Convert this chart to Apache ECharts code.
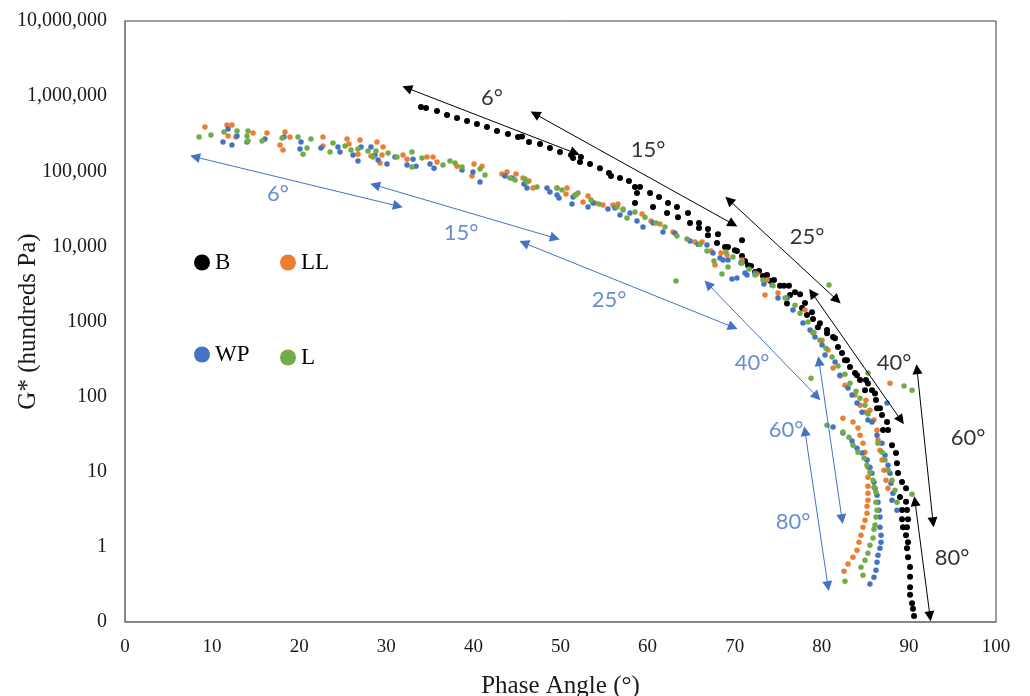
<!DOCTYPE html>
<html><head><meta charset="utf-8">
<script src="https://cdn.jsdelivr.net/npm/echarts@6/dist/echarts.min.js"></script>
<style>html,body{margin:0;padding:0;background:#fff}#c{width:1030px;height:696px}</style>
</head><body><div id="c"></div>
<script>
const seriesNames = ['B', 'LL', 'WP', 'L'];
const seriesColors = ['#000000', '#ED7D31', '#4472C4', '#70AD47'];
const yTickLabels = ['0', '1', '10', '100', '1000', '10,000', '100,000', '1,000,000', '10,000,000'];

const bData = [[33.98,716000],[34.56,694000],[35.82,633000],[36.97,560000],[38.12,511000],[39.27,466000],[40.41,425000],[41.56,388000],[42.71,343000],[43.97,313000],[45.12,285000],[45.58,290000],[46.38,245000],[47.65,230000],[48.79,204000],[49.94,180000],[51.21,164000],[51.44,150000],[52.35,155000],[52.24,133000],[53.39,125000],[54.53,110000],[55.57,94600],[55.80,86300],[56.83,81200],[57.86,74100],[58.55,61600],[59.13,61600],[58.78,51300],[60.28,51300],[61.31,45300],[62.34,37700],[63.37,33400],[64.64,27800],[65.90,20400],[66.93,17000],[68.08,14500],[68.89,9790],[70.03,8900],[70.84,7430],[71.53,5600],[72.33,4550],[73.25,4020],[74.05,3500],[75.66,3000],[76.92,2460],[77.50,2300],[78.07,1760],[78.88,1330],[79.79,950],[80.60,770],[81.29,620],[81.86,456],[82.32,380],[82.89,306],[83.81,206],[84.39,166],[85.07,166],[85.30,150],[85.76,122],[84.96,122],[86.11,110],[86.22,90],[86.68,70],[86.34,70],[86.91,57],[87.49,46],[87.60,36],[87.03,36],[88.06,22.6],[88.52,17.7],[88.63,13.0],[88.75,9.6],[89.21,7.3],[89.67,6.05],[88.98,4.6],[89.67,4.0],[89.21,3.1],[89.78,3.1],[89.21,2.34],[89.90,2.34],[89.32,1.83],[89.78,1.83],[89.67,1.43],[89.90,1.15],[89.78,0.96],[89.90,0.73],[90.13,0.54],[90.13,0.40],[90.13,0.29],[90.13,0.23],[90.36,0.178],[90.47,0.15],[90.59,0.12],[58.55,37700],[60.62,33400],[62.23,27800],[63.49,24500],[64.87,20400],[65.90,17500],[66.93,14100],[67.97,11100],[69.23,9800],[70.26,8700],[71.18,6370],[71.87,5500],[72.79,4700],[73.71,4150],[74.51,3560],[75.20,3000],[76.23,3000],[76.35,2250],[76.00,1730],[70.84,12100],[77.73,1510],[78.30,1220],[78.99,1080],[79.56,840],[80.60,700],[81.52,600],[82.66,306],[83.24,247],[84.04,193]];

const llData = [[9.18,388000],[11.71,412000],[12.28,412000],[11.83,294000],[12.74,285000],[14.70,323000],[16.30,323000],[17.80,223000],[18.14,192000],[18.37,333000],[18.94,285000],[22.73,285000],[22.73,217000],[25.49,268000],[25.72,230000],[26.98,260000],[26.75,169000],[28.93,245000],[29.62,210000],[28.24,159000],[29.51,164000],[29.28,129000],[31.92,164000],[32.38,145000],[34.67,155000],[35.36,155000],[35.82,133000],[38.12,117000],[39.84,86300],[40.07,125000],[40.99,117000],[43.28,91800],[43.86,97600],[44.89,91800],[45.69,81200],[46.38,74100],[46.84,59800],[49.60,59800],[50.75,59800],[50.63,49700],[51.78,48200],[52.58,38900],[53.16,46700],[53.96,37700],[54.88,35500],[56.03,35500],[56.60,36600],[57.18,31400],[59.36,26900],[60.39,21700],[61.42,19800],[62.92,15500],[65.44,11400],[66.25,11400],[67.28,8660],[67.74,5640],[68.43,8140],[69.12,7660],[70.84,6570],[72.56,4280],[73.48,2250],[73.71,3560],[74.97,2390],[76.00,2050],[78.07,1420],[78.99,701],[80.03,565],[80.71,416],[81.29,240],[82.09,188],[82.66,142],[83.81,105],[84.39,77],[85.07,62],[82.43,51.7],[83.58,45.8],[84.16,38.1],[84.39,30.7],[84.73,24.0],[84.96,18.2],[85.19,14.3],[85.30,11.5],[85.30,8.48],[85.30,6.43],[85.30,5.19],[85.30,4.19],[85.19,3.48],[85.19,2.81],[84.96,2.27],[84.73,1.83],[84.50,1.43],[84.27,1.15],[84.04,0.904],[83.58,0.73],[83.01,0.59],[82.55,0.475],[85.07,89.8],[85.53,66.1],[85.99,48.7],[86.34,35.8],[86.45,26.4],[86.68,19.4],[86.91,14.3],[87.14,10.5],[87.37,7.73],[87.60,6.05],[87.83,151]];

const wpData = [[11.25,245000],[12.28,223000],[11.83,365000],[12.86,294000],[14.01,245000],[16.07,268000],[18.25,285000],[20.21,245000],[20.09,198000],[22.50,204000],[24.45,210000],[24.68,180000],[26.18,164000],[26.75,137000],[27.10,210000],[28.24,210000],[28.70,164000],[29.05,141000],[30.08,125000],[31.00,155000],[32.38,121000],[33.07,145000],[33.41,117000],[35.02,125000],[35.48,110000],[38.69,104000],[39.95,97600],[40.76,71800],[43.63,86300],[44.43,81200],[45.81,67500],[46.15,59800],[48.45,59800],[48.79,52900],[49.60,48200],[49.83,44000],[51.32,36600],[51.44,45300],[53.16,33400],[53.73,37700],[55.45,31400],[56.26,32400],[56.83,26100],[57.98,27800],[58.78,21700],[59.47,18100],[60.62,20400],[61.77,15500],[63.15,15000],[64.87,11800],[65.79,10700],[66.82,10400],[67.51,8140],[68.31,6980],[68.66,6570],[69.23,6570],[69.69,3670],[70.26,3780],[70.72,5990],[71.18,4410],[71.41,4150],[72.33,4410],[73.36,3150],[74.28,3050],[74.97,2050],[76.00,2050],[76.69,1420],[77.84,952],[78.65,768],[79.22,620],[80.03,485],[80.37,357],[81.52,288],[82.09,193],[83.01,130],[83.47,105],[84.04,82],[84.62,62],[85.30,48.7],[81.29,39.3],[82.43,32.7],[83.47,25.6],[84.04,20.6],[84.62,17.7],[85.19,14.3],[85.53,11.5],[85.76,9.58],[85.99,7.27],[86.11,6.05],[86.34,4.88],[86.45,3.94],[86.57,3.08],[86.68,2.49],[86.68,1.83],[86.80,1.43],[86.80,1.15],[86.68,0.96],[86.45,0.775],[86.34,0.626],[86.22,0.49],[85.99,0.395],[85.53,0.32],[85.76,45.8],[86.34,30.7],[86.91,24.0],[87.26,16.6],[87.60,12.2],[87.83,9.58],[87.95,7.05],[88.17,5.19],[88.06,4.19],[88.63,3.08],[87.49,82]];

const lData = [[8.50,285000],[9.87,303000],[11.37,333000],[12.86,343000],[14.01,294000],[14.12,343000],[14.12,252000],[15.73,252000],[18.03,277000],[19.86,285000],[20.90,204000],[20.44,169000],[21.35,268000],[23.54,180000],[23.88,237000],[25.26,217000],[25.95,192000],[26.75,198000],[27.90,186000],[28.47,155000],[28.82,186000],[30.20,175000],[31.23,155000],[32.95,180000],[32.95,114000],[34.10,150000],[36.51,121000],[37.31,137000],[37.89,129000],[38.69,114000],[40.76,107000],[41.33,89000],[44.20,81200],[44.78,76400],[45.92,78700],[46.15,71800],[47.30,61600],[49.60,59800],[50.17,56200],[51.66,48200],[52.01,51300],[53.50,41300],[54.42,36600],[56.49,33400],[57.18,30400],[57.63,23800],[58.55,28600],[59.70,24500],[60.96,20400],[61.99,18100],[63.37,13700],[64.52,12500],[66.02,10700],[66.82,8660],[67.62,6370],[68.54,4280],[69.00,8400],[69.23,5300],[69.80,7200],[70.84,5990],[71.64,4980],[72.33,4150],[73.25,3560],[74.40,3000],[75.78,2050],[76.92,1650],[77.50,1290],[78.42,982],[79.10,722],[79.79,565],[80.48,442],[81.17,336],[81.86,255],[82.66,199],[83.24,151],[83.93,118],[84.39,95.5],[84.96,77],[85.30,58.5],[80.60,41.7],[82.43,33.7],[83.12,28.9],[83.58,22.6],[84.16,18.2],[84.85,15.2],[85.19,12.2],[85.53,9.88],[85.88,7.73],[85.99,6.24],[86.22,5.35],[86.22,3.94],[86.34,3.08],[86.22,2.49],[86.11,1.95],[85.99,1.72],[85.88,1.31],[85.53,1.05],[85.30,0.82],[84.96,0.665],[84.50,0.537],[84.73,0.42],[86.45,24.0],[86.91,18.2],[87.26,14.3],[87.60,10.5],[88.06,7.73],[88.40,5.69],[88.63,3.94],[63.26,3450],[80.83,3050],[78.76,176],[85.30,206],[89.44,138],[90.36,122],[90.36,5.03],[82.66,0.35]];

const blackArrows = [[[32.38,1282000],[51.66,174700]],[[47.08,578000],[69.80,19800]],[[69.35,41300],[81.75,1930]],[[78.88,2390],[89.09,48.7]],[[90.93,232],[92.77,2.13]],[[90.70,4.06],[92.42,0.1195]]];
const blueArrows = [[[8.04,155000],[31.34,34400]],[[28.70,65500],[49.37,12900]],[[45.81,11100],[69.80,842]],[[66.93,3150],[79.45,100]],[[79.68,297],[82.32,2.34]],[[78.07,34.7],[80.71,0.30]]];
const blackLabels = [[42.14,943000,'6°'],[60.05,192000,'15°'],[78.30,13300,'25°'],[88.29,279,'40°'],[96.79,28.0,'60°'],[94.95,0.707,'80°']];
const blueLabels = [[17.57,49700,'6°'],[38.58,15000,'15°'],[55.57,1930,'25°'],[71.99,279,'40°'],[75.89,35.8,'60°'],[76.69,2.13,'80°']];

const serif = 'Liberation Serif';
const chart = echarts.init(document.getElementById('c'));
const dataSets = [bData, llData, wpData, lData];
const scatterSeries = seriesNames.map((n, i) => ({
  name: n, type: 'scatter', data: dataSets[i], symbol: 'circle', symbolSize: i === 0 ? 6 : 5.5,
  itemStyle: { color: seriesColors[i], opacity: 1 }, z: 3
}));
function arrowSeries(arr, color) {
  return {
    type: 'lines', coordinateSystem: 'cartesian2d', silent: true, z: 4,
    symbol: ['triangle', 'triangle'], symbolSize: 10,
    lineStyle: { color: color, width: 1, opacity: 1 },
    data: arr.map(a => ({ coords: a }))
  };
}
function labelSeries(arr, color) {
  return {
    type: 'scatter', silent: true, symbolSize: 0, z: 5, data: arr,
    label: { show: true, position: 'inside', formatter: p => p.data[2],
      fontFamily: 'Lato', fontSize: 22, color: color }
  };
}
chart.setOption({
  animation: false,
  grid: { left: 125, right: 34, top: 21, bottom: 74, show: true, borderColor: '#404040', borderWidth: 1,
    containLabel: false, outerBoundsMode: 'none' },
  xAxis: {
    type: 'value', min: 0, max: 100, interval: 10,
    name: 'Phase Angle (°)', nameLocation: 'middle', nameGap: 52, nameMoveOverlap: false,
    nameTextStyle: { fontFamily: serif, fontSize: 25, color: '#1a1a1a' },
    axisLine: { lineStyle: { color: '#7f7f7f', width: 1.5 } },
    axisTick: { show: false }, splitLine: { show: false },
    axisLabel: { fontFamily: serif, fontSize: 19, color: '#1a1a1a', margin: 16 }
  },
  yAxis: {
    type: 'log', logBase: 10, min: 0.1, max: 10000000, interval: 1,
    name: 'G* (hundreds Pa)', nameLocation: 'middle', nameGap: 84, nameMoveOverlap: false,
    nameTextStyle: { fontFamily: serif, fontSize: 25, color: '#1a1a1a' },
    axisLine: { lineStyle: { color: '#7f7f7f', width: 1.5 } },
    axisTick: { show: false }, splitLine: { show: false },
    axisLabel: { fontFamily: serif, fontSize: 20, color: '#1a1a1a', margin: 18,
      formatter: v => yTickLabels[Math.round(Math.log10(v)) + 1] }
  },
  legend: [
    { data: ['B', 'WP'], orient: 'vertical', left: 194, top: 251, itemGap: 69, padding: 0,
      icon: 'circle', itemWidth: 16, itemHeight: 16, selectedMode: false,
      textStyle: { fontFamily: serif, fontSize: 23, color: '#000' } },
    { data: ['LL', 'L'], orient: 'vertical', left: 280, top: 251, itemGap: 72, padding: 0,
      icon: 'circle', itemWidth: 16, itemHeight: 16, selectedMode: false,
      textStyle: { fontFamily: serif, fontSize: 23, color: '#000' } }
  ],
  series: scatterSeries.concat([
    arrowSeries(blackArrows, '#000000'),
    arrowSeries(blueArrows, '#4472C4'),
    labelSeries(blackLabels, '#000000'),
    labelSeries(blueLabels, '#4472C4')
  ])
});
</script></body></html>
